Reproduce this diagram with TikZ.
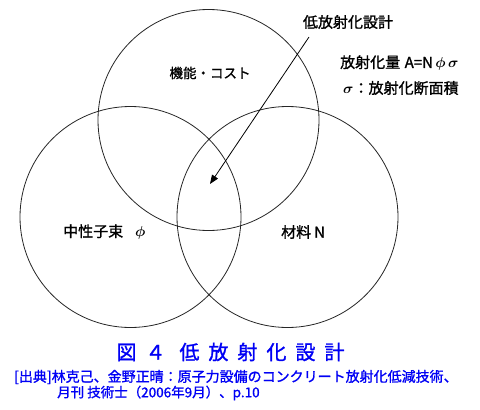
\documentclass[tikz,border=0pt]{standalone}
\usepackage{amsmath}
\usepackage{fontspec}
\setmainfont{Noto Sans CJK JP}
\newfontfamily\jp[FakeBold=1.2]{Noto Sans CJK JP}
\usetikzlibrary{arrows.meta}
\definecolor{capblue}{RGB}{0,0,245}
\newcommand{\gphi}{$\boldsymbol{\phi}$}
\newcommand{\gsig}{$\boldsymbol{\sigma}$}
\begin{document}
\begin{tikzpicture}[x=1pt,y=-1pt,
  ring/.style={draw=black!85,line width=0.8pt},
  lbl/.style={inner sep=0pt,font=\jp\fontsize{15}{17}\selectfont},
  reftext/.style={inner sep=0pt,text=capblue,font=\jp\fontsize{14}{16}\selectfont}]
\useasboundingbox[fill=white] (0,0) rectangle (480,410);
% circles
\draw[ring] (208.5,120) circle[radius=110.5];
\draw[ring] (130.5,217) circle[radius=110.5];
\draw[ring] (287.5,217) circle[radius=110.5];
% labels
\node[lbl] (low) at (348,22) {低放射化設計};
\node[lbl,font=\jp\fontsize{13.5}{15}\selectfont] (func) at (210,73) {機能・コスト};
\node[lbl,anchor=west] (amt) at (340,63) {放射化量\hspace{0.3em}A=N\,\gphi\,\gsig};
\node[lbl,anchor=west] (sig) at (343,88) {\gsig：放射化断面積};
\node[lbl,anchor=west] (flux) at (63,232) {中性子束\hspace{0.8em}\gphi};
\node[lbl,anchor=west] (mat) at (281,232) {材料\hspace{0.2em}N};
\coordinate (s) at (309,37);
\coordinate (tip) at (210,184);
\draw[line width=0.8pt,-{Triangle[length=9pt,width=7pt]}] (s) -- (tip);
% caption
\node[inner sep=0pt,text=capblue,font=\jp\fontsize{20}{22}\selectfont] (title) at (230.5,352)
  {\addfontfeature{LetterSpace=45}図４\hspace{0.7em}低放射化設計};
\node[reftext,anchor=west] (ref1) at (14,377) {[出典]林克己、金野正晴：原子力設備のコンクリート放射化低減技術、};
\node[reftext,anchor=west,font=\jp\fontsize{13.5}{15}\selectfont] (ref2) at (57,393) {月刊 技術士（2006年9月）、p.10};
\end{tikzpicture}
\end{document}
